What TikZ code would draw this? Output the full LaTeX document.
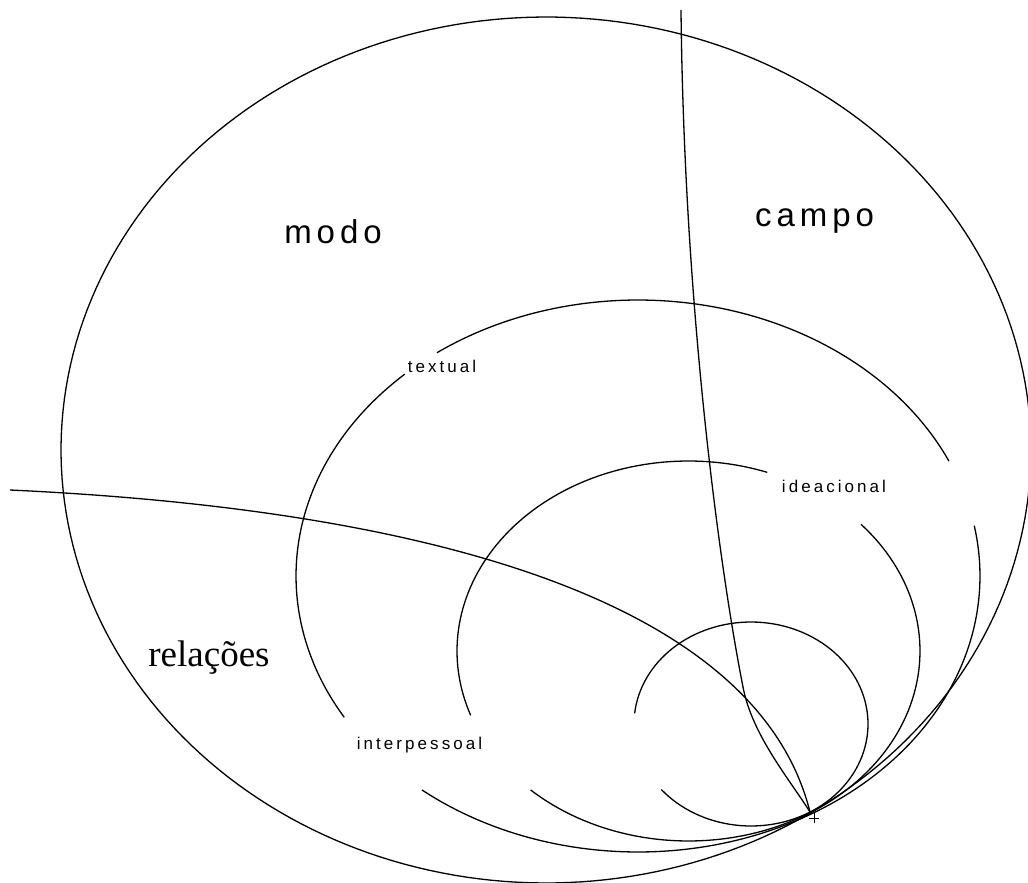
\documentclass[tikz,border=0pt]{standalone}
\usepackage{fontspec}
\setmainfont{Liberation Serif}
\newfontfamily\bigfont{Liberation Sans}[LetterSpace=15]
\newfontfamily\smallfont{Liberation Sans}[LetterSpace=18]
\usetikzlibrary{positioning}

\begin{document}
\begin{tikzpicture}[
    x=1pt, y=-1pt,
    curve/.style={line width=1.3pt, black},
    bigsans/.style={font=\bigfont\fontsize{33}{40}\selectfont, anchor=base, inner sep=0pt},
    smallsans/.style={font=\smallfont\fontsize{17}{20}\selectfont, anchor=base, inner sep=0pt},
    bigserif/.style={font=\fontsize{37}{44}\selectfont, anchor=base, inner sep=0pt}
]
\useasboundingbox (0,0) rectangle (1028,883);
\coordinate (P) at (810,812);

% outer ellipse
\draw[curve] plot[domain=0:360, samples=240] ({546+485*cos(\x)}, {450+433*sin(\x)});

% textual
\draw[curve] plot[domain=234:335.4, samples=80] ({638+342*cos(\x)}, {576+276*sin(\x)});
\draw[curve] plot[domain=349.5:489.2, samples=100] ({638+342*cos(\x)}, {576+276*sin(\x)});
\draw[curve] plot[domain=149.2:227, samples=60] ({638+342*cos(\x)}, {576+276*sin(\x)});

% ideacional
\draw[curve] plot[domain=160.2:289.9, samples=80] ({688.5+231.5*cos(\x)}, {651+190*sin(\x)});
\draw[curve] plot[domain=318.2:493, samples=100] ({688.5+231.5*cos(\x)}, {651+190*sin(\x)});

% interpessoal
\draw[curve] plot[domain=186:500, samples=120] ({751+117*cos(\x)}, {724+102*sin(\x)});

% separators
\draw[curve] (10,490) .. controls (460,511) and (760,612) .. (P);
\draw[curve] (681,10) .. controls (684,300) and (718,560) .. (743,687)
    .. controls (752,735) and (790,780) .. (P);
\draw[line width=1pt] (809,818) -- (819,818) (814,813) -- (814,823);

% labels
\node[bigsans] (modo) at (333,243) {modo};
\node[bigsans] (campo) at (814.5,226) {campo};
\node[bigserif] (relacoes) at (209,666) {relações};
\node[smallsans] (textual) at (442,372) {textual};
\node[smallsans] (ideacional) at (834,492) {ideacional};
\node[smallsans] (interpessoal) at (419.5,749) {interpessoal};
\end{tikzpicture}
\end{document}
